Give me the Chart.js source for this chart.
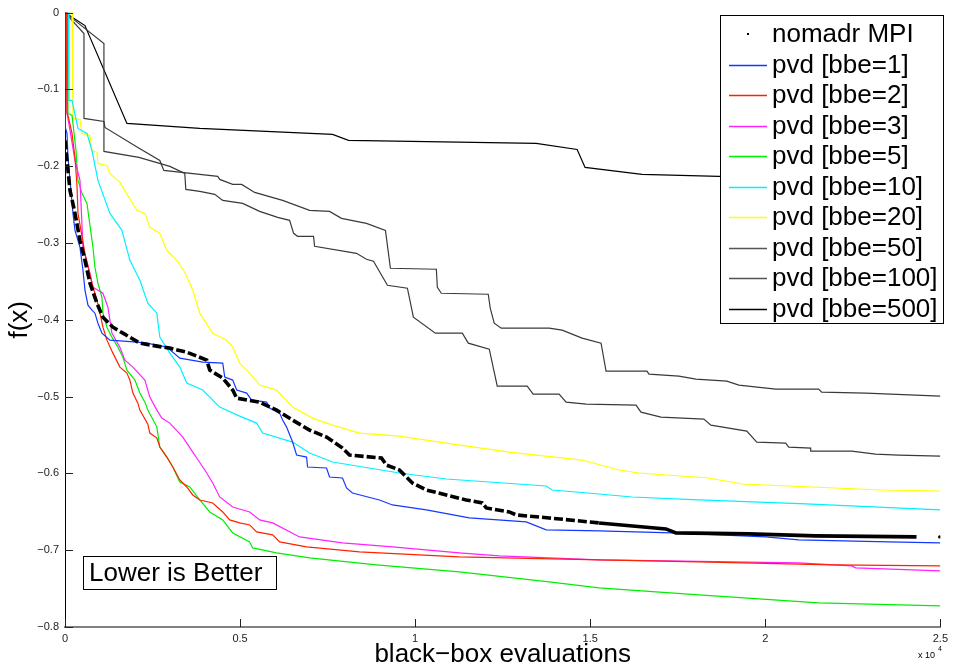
<!DOCTYPE html>
<html>
<head>
<meta charset="utf-8">
<script src="https://cdn.jsdelivr.net/npm/chart.js@4/dist/chart.umd.min.js"></script>
<style>
  html, body { margin: 0; padding: 0; background: #fff; }
  #wrap { width: 953px; height: 667px; }
</style>
</head>
<body>
<div id="wrap"><canvas id="chart" width="953" height="667"></canvas></div>
<script>
// ================================
// Data (x = black-box evaluations, y = f(x))
// ================================

const xTicks = [0, 5000, 10000, 15000, 20000, 25000];
const xTickLabels = ['0', '0.5', '1', '1.5', '2', '2.5'];
const yTicks = [0, -0.1, -0.2, -0.3, -0.4, -0.5, -0.6, -0.7, -0.8];
const yTickLabels = ['0', '\u22120.1', '\u22120.2', '\u22120.3', '\u22120.4', '\u22120.5', '\u22120.6', '\u22120.7', '\u22120.8'];

const seriesLabels = ['nomadr MPI', 'pvd [bbe=1]', 'pvd [bbe=2]', 'pvd [bbe=3]', 'pvd [bbe=5]',
  'pvd [bbe=10]', 'pvd [bbe=20]', 'pvd [bbe=50]', 'pvd [bbe=100]', 'pvd [bbe=500]'];
const seriesColors = ['#000000', '#1438ff', '#ff2200', '#ff22ff', '#00ee00',
  '#00f0ff', '#ffff00', '#3a3a3a', '#3a3a3a', '#000000'];

const nomadrMPI = [[0,-0.1664],[57,-0.1925],[143,-0.2315],[285,-0.2614],[428,-0.2965],[570,-0.3225],[713,-0.3524],[912,-0.3784],[1083,-0.3966],[1368,-0.4096],[1654,-0.4174],[2138,-0.4304],[2623,-0.4343],[2994,-0.4369],[3478,-0.4421],[4048,-0.4525],[4134,-0.4655],[4505,-0.4759],[4790,-0.4915],[4904,-0.5020],[5559,-0.5072],[6044,-0.5176],[6500,-0.5306],[6985,-0.5436],[7470,-0.5527],[7926,-0.5670],[8125,-0.5761],[9038,-0.5800],[9180,-0.5891],[9551,-0.5956],[9922,-0.6125],[10320,-0.6216],[10891,-0.6281],[11461,-0.6346],[11917,-0.6385],[12031,-0.6450],[12687,-0.6502],[12887,-0.6541],[13827,-0.6580],[15253,-0.6645],[17163,-0.6723],[17448,-0.6775],[19529,-0.6788],[21439,-0.6814],[24319,-0.6827],[24650,null],[24980,-0.6827]];

const bbe1 = [[0,0],[9,-0.1495],[57,-0.1573],[86,-0.1886],[143,-0.2185],[228,-0.2614],[285,-0.2835],[428,-0.3056],[513,-0.3355],[570,-0.3615],[656,-0.3810],[770,-0.3875],[855,-0.3914],[941,-0.4044],[1055,-0.4174],[1283,-0.4265],[2053,-0.4291],[2338,-0.4304],[2908,-0.4356],[3279,-0.4499],[3934,-0.4551],[4505,-0.4564],[4562,-0.4746],[4790,-0.4785],[4904,-0.4915],[5189,-0.4954],[5331,-0.5046],[5759,-0.5072],[5845,-0.5150],[6130,-0.5215],[6215,-0.5306],[6329,-0.5397],[6500,-0.5592],[6614,-0.5761],[6899,-0.5787],[6928,-0.5917],[7470,-0.5930],[7555,-0.6047],[7926,-0.6060],[8040,-0.6190],[8211,-0.6255],[8981,-0.6346],[9351,-0.6411],[10320,-0.6476],[11547,-0.6580],[13172,-0.6632],[13742,-0.6736],[15253,-0.6749],[17334,-0.6775],[20014,-0.6827],[20955,-0.6866],[23521,-0.6892],[25000,-0.6905]];

const bbe2 = [[0,0],[29,0],[57,-0.1313],[86,-0.1339],[200,-0.1573],[285,-0.1886],[342,-0.2250],[371,-0.2614],[570,-0.3134],[770,-0.3524],[912,-0.3745],[998,-0.3914],[1083,-0.4096],[1197,-0.4265],[1368,-0.4434],[1568,-0.4616],[1768,-0.4694],[1853,-0.4785],[1939,-0.4954],[2081,-0.5085],[2138,-0.5176],[2366,-0.5358],[2423,-0.5475],[2623,-0.5540],[2708,-0.5657],[2908,-0.5787],[3079,-0.5917],[3279,-0.6086],[3478,-0.6177],[3649,-0.6281],[3849,-0.6346],[4219,-0.6385],[4505,-0.6502],[4704,-0.6606],[4989,-0.6645],[5274,-0.6671],[5474,-0.6762],[5930,-0.6801],[6130,-0.6892],[6899,-0.6957],[8410,-0.7022],[11261,-0.7087],[15253,-0.7126],[18104,-0.7152],[21896,-0.7191],[25000,-0.7204]];

const bbe3 = [[0,0],[29,0],[57,-0.1313],[143,-0.1534],[285,-0.1925],[428,-0.2185],[513,-0.3056],[713,-0.3394],[798,-0.3576],[1083,-0.3654],[1226,-0.3836],[1283,-0.4005],[1340,-0.4174],[1568,-0.4356],[1711,-0.4525],[1939,-0.4616],[2281,-0.4785],[2423,-0.5007],[2623,-0.5176],[2765,-0.5280],[2994,-0.5345],[3364,-0.5527],[3649,-0.5722],[3763,-0.5800],[4048,-0.5995],[4219,-0.6125],[4419,-0.6307],[4790,-0.6437],[5274,-0.6502],[5559,-0.6606],[5930,-0.6645],[6700,-0.6827],[7926,-0.6905],[9351,-0.6957],[11261,-0.7035],[12402,-0.7074],[15253,-0.7126],[20955,-0.7165],[22466,-0.7204],[22580,-0.7230],[25000,-0.7269]];

const bbe5 = [[0,0],[57,0],[86,-0.1313],[200,-0.1339],[314,-0.1795],[371,-0.2185],[485,-0.2354],[627,-0.2484],[798,-0.3056],[855,-0.3316],[941,-0.3524],[1055,-0.3706],[1083,-0.3914],[1197,-0.4096],[1340,-0.4226],[1511,-0.4356],[1654,-0.4486],[1768,-0.4655],[1996,-0.4785],[2138,-0.4954],[2281,-0.5072],[2366,-0.5176],[2623,-0.5397],[2708,-0.5657],[2908,-0.5787],[3079,-0.5917],[3279,-0.6112],[3564,-0.6177],[3849,-0.6346],[4134,-0.6502],[4505,-0.6606],[4790,-0.6775],[5274,-0.6892],[5360,-0.6970],[6044,-0.7035],[6985,-0.7100],[8895,-0.7191],[11261,-0.7282],[13827,-0.7412],[15253,-0.7490],[18104,-0.7581],[21525,-0.7685],[25000,-0.7724]];

const bbe10 = [[0,0],[86,0],[114,-0.1144],[200,-0.1144],[371,-0.1508],[627,-0.1573],[770,-0.1795],[884,-0.2055],[941,-0.2185],[1283,-0.2614],[1625,-0.2835],[1853,-0.3225],[2138,-0.3485],[2366,-0.3784],[2623,-0.3914],[2708,-0.4226],[2994,-0.4434],[3279,-0.4616],[3478,-0.4824],[3934,-0.4915],[4419,-0.5137],[4989,-0.5254],[5474,-0.5345],[5645,-0.5475],[6500,-0.5592],[6985,-0.5735],[7641,-0.5852],[9551,-0.5995],[10891,-0.6073],[13742,-0.6164],[13913,-0.6216],[15253,-0.6268],[16194,-0.6307],[18104,-0.6346],[21154,-0.6398],[25000,-0.6476]];

const bbe20 = [[0,0],[200,0],[228,-0.1378],[428,-0.1391],[485,-0.1573],[713,-0.1599],[770,-0.1795],[912,-0.1821],[941,-0.1964],[1197,-0.1990],[1283,-0.2094],[1568,-0.2211],[2053,-0.2575],[2281,-0.2614],[2423,-0.2796],[2708,-0.2874],[2908,-0.3095],[3193,-0.3225],[3421,-0.3381],[3649,-0.3615],[3849,-0.3914],[4219,-0.4174],[4619,-0.4265],[4790,-0.4356],[4989,-0.4564],[5274,-0.4694],[5559,-0.4850],[6044,-0.4915],[6500,-0.5137],[7070,-0.5280],[7641,-0.5371],[8410,-0.5475],[9551,-0.5514],[10891,-0.5605],[12687,-0.5722],[14768,-0.5826],[15823,-0.5956],[16393,-0.5995],[18389,-0.6060],[19330,-0.6138],[23321,-0.6216],[25000,-0.6229]];

const bbe50 = [[0,0],[1112,-0.0403],[1112,-0.1808],[2110,-0.1886],[2994,-0.2003],[3421,-0.2094],[3450,-0.2302],[3849,-0.2328],[4277,-0.2367],[4505,-0.2445],[5075,-0.2484],[5559,-0.2588],[6073,-0.2666],[6415,-0.2705],[6529,-0.2874],[6643,-0.2913],[7099,-0.2913],[7128,-0.3043],[8325,-0.3134],[8610,-0.3212],[8810,-0.3238],[9209,-0.3550],[9779,-0.3589],[9950,-0.3966],[10577,-0.4174],[11347,-0.4174],[11518,-0.4304],[12117,-0.4382],[12345,-0.4863],[13200,-0.4863],[13371,-0.4967],[14112,-0.4967],[14312,-0.5072],[14882,-0.5098],[16308,-0.5111],[16450,-0.5202],[17021,-0.5267],[18246,-0.5293],[18446,-0.5371],[19472,-0.5449],[19757,-0.5592],[20584,-0.5605],[20670,-0.5657],[21297,-0.5670],[21297,-0.5709],[22466,-0.5709],[23150,-0.5748],[23806,-0.5761],[25000,-0.5774]];

const bbe100 = [[0,0],[542,-0.0273],[542,-0.1378],[1112,-0.1417],[1140,-0.1495],[2081,-0.1756],[2708,-0.1925],[2822,-0.2055],[3849,-0.2107],[4362,-0.2133],[4419,-0.2172],[4789,-0.2237],[5046,-0.2237],[5417,-0.2341],[6215,-0.2445],[6985,-0.2575],[7555,-0.2588],[7897,-0.2679],[8610,-0.2744],[9152,-0.2835],[9294,-0.3329],[10606,-0.3342],[10634,-0.3576],[10748,-0.3654],[12088,-0.3667],[12145,-0.3849],[12259,-0.4044],[12459,-0.4109],[13827,-0.4109],[14198,-0.4135],[14768,-0.4239],[15310,-0.4304],[15452,-0.4668],[16621,-0.4668],[16678,-0.4707],[17533,-0.4733],[18018,-0.4772],[18902,-0.4798],[19244,-0.4850],[20299,-0.4902],[21525,-0.4902],[21611,-0.4941],[22865,-0.4954],[25000,-0.4993]];

const bbe500 = [[0,0],[570,-0.0169],[1768,-0.1443],[3849,-0.1508],[7641,-0.1586],[8097,-0.1664],[13457,-0.1704],[14626,-0.1782],[14854,-0.2016],[16479,-0.2107],[18674,-0.2133],[20955,-0.2159],[23806,-0.2445],[25000,-0.2536]];

const seriesData = [nomadrMPI, bbe1, bbe2, bbe3, bbe5, bbe10, bbe20, bbe50, bbe100, bbe500];

// ================================
// Chart setup
// ================================

const FONT = '"Liberation Sans", Arial, Helvetica, sans-serif';
const toXY = arr => arr.map(p => ({ x: p[0], y: p[1] }));

const datasets = seriesData.map((arr, i) => {
  const isMPI = i === 0;
  return {
    label: seriesLabels[i],
    data: toXY(arr),
    borderColor: seriesColors[i],
    backgroundColor: seriesColors[i],
    borderWidth: isMPI ? 3.6 : 1.2,
    pointRadius: isMPI
      ? (c => (c.dataIndex > 0 && arr[c.dataIndex - 1][1] === null) ? 1.6 : 0)
      : 0,
    pointBorderWidth: 0,
    tension: 0,
    spanGaps: false,
    segment: isMPI ? { borderDash: c => c.p0.parsed.x < 14000 ? [9, 3] : undefined } : undefined
  };
});

// inward ticks, legend box, annotation and axis titles
const decor = {
  id: 'decor',
  afterDraw(chart) {
    const { ctx, chartArea: a, scales: { x, y } } = chart;
    ctx.save();

    ctx.strokeStyle = '#222';
    ctx.lineWidth = 1;
    ctx.beginPath();
    yTicks.forEach(v => {
      const py = Math.round(y.getPixelForValue(v)) + 0.5;
      ctx.moveTo(a.left, py);
      ctx.lineTo(a.left + 8, py);
    });
    xTicks.forEach(v => {
      const px = Math.round(x.getPixelForValue(v)) + 0.5;
      ctx.moveTo(px, a.bottom);
      ctx.lineTo(px, a.bottom - 8);
    });
    ctx.stroke();

    // legend
    ctx.fillStyle = '#fff';
    ctx.fillRect(721, 15, 223, 308);
    ctx.strokeStyle = '#000';
    ctx.strokeRect(720.5, 15.5, 223, 308);
    ctx.font = '26px ' + FONT;
    ctx.textBaseline = 'middle';
    ctx.textAlign = 'left';
    seriesLabels.forEach((lab, i) => {
      const cy = 34 + i * 30.5;
      if (i === 0) {
        ctx.fillStyle = '#000';
        ctx.fillRect(747, cy - 1, 2, 2);
      } else {
        ctx.strokeStyle = i === 7 || i === 8 ? '#555' : seriesColors[i];
        ctx.lineWidth = 1.3;
        ctx.beginPath();
        ctx.moveTo(729, Math.round(cy) + 0.5);
        ctx.lineTo(767, Math.round(cy) + 0.5);
        ctx.stroke();
      }
      ctx.fillStyle = '#000';
      ctx.fillText(lab, 772, cy + 1);
    });

    // "Lower is Better" box
    ctx.fillStyle = '#fff';
    ctx.fillRect(84, 557, 192, 32);
    ctx.strokeStyle = '#000';
    ctx.lineWidth = 1;
    ctx.strokeRect(83.5, 556.5, 193, 33);
    ctx.fillStyle = '#000';
    ctx.font = '26px ' + FONT;
    ctx.fillText('Lower is Better', 89, 574);

    // axis titles
    ctx.textAlign = 'center';
    ctx.fillText('black\u2212box evaluations', (a.left + a.right) / 2, 655);
    ctx.save();
    ctx.translate(20, (a.top + a.bottom) / 2);
    ctx.rotate(-Math.PI / 2);
    ctx.fillText('f(x)', 0, 0);
    ctx.restore();

    // exponent label
    ctx.textAlign = 'left';
    ctx.textBaseline = 'alphabetic';
    ctx.font = '9px ' + FONT;
    ctx.fillText('x 10', 918, 658);
    ctx.font = '7px ' + FONT;
    ctx.fillText('4', 938, 651);

    ctx.restore();
  }
};

new Chart(document.getElementById('chart'), {
  type: 'line',
  data: { datasets },
  plugins: [decor],
  options: {
    responsive: false,
    animation: false,
    events: [],
    layout: { padding: { top: 12, right: 11, left: 0, bottom: 0 } },
    plugins: {
      legend: { display: false },
      tooltip: { enabled: false },
      title: { display: false }
    },
    scales: {
      x: {
        type: 'linear',
        min: 0,
        max: 25000,
        afterFit: s => { s.height = 40; },
        afterBuildTicks: s => { s.ticks = xTicks.map(v => ({ value: v })); },
        grid: { display: false, drawTicks: false },
        border: { display: true, color: '#808080', width: 2 },
        ticks: {
          padding: 5,
          color: '#222',
          font: { family: FONT, size: 11 },
          maxRotation: 0,
          callback: v => xTickLabels[xTicks.indexOf(v)]
        }
      },
      y: {
        type: 'linear',
        min: -0.8,
        max: 0,
        afterFit: s => { s.width = 65; },
        afterBuildTicks: s => { s.ticks = yTicks.map(v => ({ value: v })); },
        grid: { display: false, drawTicks: false },
        border: { display: true, color: '#000', width: 1 },
        ticks: {
          padding: 6,
          color: '#222',
          font: { family: FONT, size: 11 },
          callback: v => yTickLabels[yTicks.indexOf(v)]
        }
      }
    }
  }
});
</script>
</body>
</html>
